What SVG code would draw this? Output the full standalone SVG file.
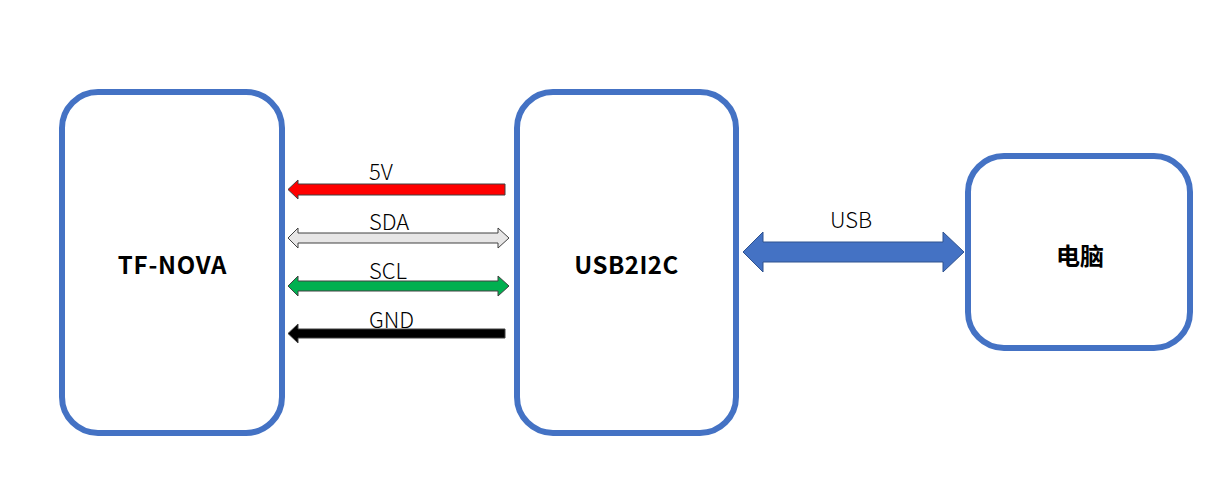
<svg xmlns="http://www.w3.org/2000/svg" width="1215" height="503" viewBox="0 0 1215 503">
<style>
.box{fill:#fff;stroke:#4472C4;stroke-width:6}
.title{font-family:"Noto Sans CJK SC","Noto Sans",sans-serif;font-weight:bold;font-size:24px;fill:#000;text-anchor:middle;dominant-baseline:central}
.lbl{font-family:"Noto Sans CJK SC","Noto Sans",sans-serif;font-weight:300;font-size:22px;fill:#000}
.arr{stroke:#404040;stroke-width:1}
</style>
<rect width="1215" height="503" fill="#fff"/>
<g id="tf-nova">
<rect class="box" x="62" y="92" width="220" height="341" rx="36"/>
<text class="title" x="172.5" y="263" letter-spacing="0.8">TF-NOVA</text>
</g>
<g id="usb2i2c">
<rect class="box" x="517" y="92" width="219" height="341" rx="36"/>
<text class="title" x="626.5" y="263" letter-spacing="0.5">USB2I2C</text>
</g>
<g id="pc">
<rect class="box" x="968" y="156" width="222" height="192" rx="36"/>
<text class="title" x="1080" y="254">电脑</text>
</g>
<g id="connectors">
<polygon class="arr" fill="#FF0000" points="505,184 298,184 298,180 288,189.5 298,199 298,195 505,195"/>
<polygon class="arr" fill="#E7E6E6" stroke="#595959" points="298,233 498,233 498,228 509,238 498,248 498,243 298,243 298,248 288,238 298,228"/>
<polygon class="arr" fill="#00B050" points="298,281 498,281 498,276 509,286 498,296 498,291 298,291 298,296 288,286 298,276"/>
<polygon class="arr" fill="#000000" points="505,329 298,329 298,324 288,333.5 298,343 298,338 505,338"/>
<polygon fill="#4472C4" stroke="#2F528F" stroke-width="1" points="763,242 943,242 943,232 964,252 943,272 943,262 763,262 763,272 743,252 763,232"/>
<text class="lbl" x="369" y="180">5V</text>
<text class="lbl" x="369" y="230">SDA</text>
<text class="lbl" x="369" y="279">SCL</text>
<text class="lbl" x="369" y="328">GND</text>
<text class="lbl" x="830" y="228">USB</text>
</g>
</svg>
